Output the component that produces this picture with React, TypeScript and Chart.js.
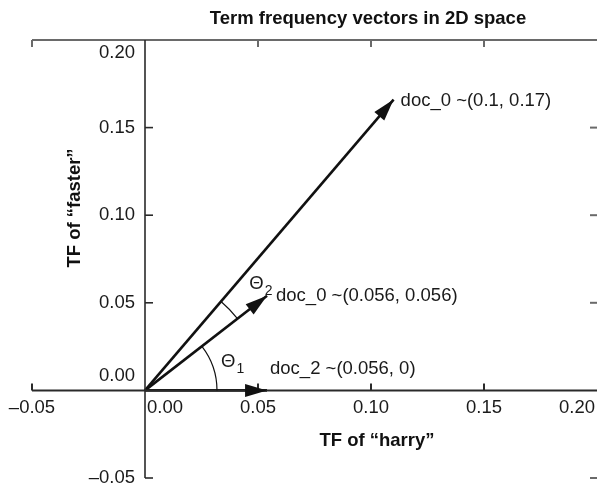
import React, { useEffect, useRef } from "react";
import { Chart, registerables } from "chart.js";

Chart.register(...registerables);

// ---- data ----
const chartTitle = "Term frequency vectors in 2D space";
const xAxisTitle = "TF of \u201charry\u201d";
const yAxisTitle = "TF of \u201cfaster\u201d";

const xTickValues = [-0.05, 0, 0.05, 0.1, 0.15, 0.2];
const xTickLabels = ["\u20130.05", "0.00", "0.05", "0.10", "0.15", "0.20"];
const yTickValues = [-0.05, 0, 0.05, 0.1, 0.15, 0.2];
const yTickLabels = ["\u20130.05", "0.00", "0.05", "0.10", "0.15", "0.20"];

const vectorNames = ["doc_0 ~(0.1, 0.17)", "doc_0 ~(0.056, 0.056)", "doc_2 ~(0.056, 0)"];
const vectorX = [0.11, 0.054, 0.054];
const vectorY = [0.166, 0.054, 0];

const angleNames = ["1", "2"];
// pairs of vector indices between which each angle is drawn
const anglePairs = [
  [2, 1],
  [1, 0],
];

// ---- layout / style ----
const FONT = "'Liberation Sans', Arial, Helvetica, sans-serif";
const FS = 18.5;
const labelOffsets = [
  [7, 1],
  [9, 0],
  [3, -21],
];
const arcRadii = [72, 117];
const angleLabelRadii = [88, 154];

const overlayPlugin = {
  id: "overlay",
  afterDatasetsDraw(chart: any) {
    const ctx: CanvasRenderingContext2D = chart.ctx;
    const xs = chart.scales.x;
    const ys = chart.scales.y;
    const X = (v: number) => xs.getPixelForValue(v);
    const Y = (v: number) => ys.getPixelForValue(v);
    const x0 = X(0);
    const y0 = Y(0);
    const left = X(xTickValues[0]);
    const right = X(xTickValues[xTickValues.length - 1]);
    const top = Y(yTickValues[yTickValues.length - 1]);
    const bottom = Y(yTickValues[0]);

    ctx.save();
    // top border
    ctx.strokeStyle = "#6a6a6a";
    ctx.lineWidth = 2;
    ctx.beginPath();
    ctx.moveTo(left, top);
    ctx.lineTo(right + 2, top);
    ctx.stroke();
    // top ticks
    xTickValues.forEach((v) => {
      if (v === 0 || v === xTickValues[xTickValues.length - 1]) return;
      ctx.beginPath();
      ctx.moveTo(X(v), top);
      ctx.lineTo(X(v), top + 7);
      ctx.stroke();
    });
    // right ticks
    yTickValues.forEach((v) => {
      if (v === 0 || v === yTickValues[yTickValues.length - 1]) return;
      ctx.beginPath();
      ctx.moveTo(right + 1, Y(v));
      ctx.lineTo(right - 7, Y(v));
      ctx.stroke();
    });

    // x axis through origin
    ctx.strokeStyle = "#2a2a2a";
    ctx.lineWidth = 2;
    ctx.beginPath();
    ctx.moveTo(left, y0);
    ctx.lineTo(right + 2, y0);
    ctx.stroke();
    xTickValues.forEach((v) => {
      if (v === 0 || v === xTickValues[xTickValues.length - 1]) return;
      ctx.beginPath();
      ctx.moveTo(X(v), y0);
      ctx.lineTo(X(v), y0 - 7);
      ctx.stroke();
    });
    // y axis through origin
    ctx.lineWidth = 1.6;
    ctx.beginPath();
    ctx.moveTo(x0, top);
    ctx.lineTo(x0, bottom);
    ctx.stroke();
    yTickValues.forEach((v) => {
      if (v === 0 || v === yTickValues[yTickValues.length - 1]) return;
      ctx.beginPath();
      ctx.moveTo(x0, Y(v));
      ctx.lineTo(x0 + 8, Y(v));
      ctx.stroke();
    });

    // tick labels
    ctx.fillStyle = "#1a1a1a";
    ctx.font = `${FS}px ${FONT}`;
    ctx.textBaseline = "middle";
    xTickValues.forEach((v, i) => {
      let px = X(v);
      if (v === 0) {
        ctx.textAlign = "left";
        px = x0 + 2;
      } else if (i === xTickValues.length - 1) {
        ctx.textAlign = "right";
        px = right - 2;
      } else {
        ctx.textAlign = "center";
      }
      ctx.fillText(xTickLabels[i], px, y0 + 18);
    });
    ctx.textAlign = "right";
    yTickValues.forEach((v, i) => {
      let py = Y(v);
      if (v === 0) py = y0 - 14;
      else if (i === yTickValues.length - 1) py = top + 13;
      ctx.fillText(yTickLabels[i], x0 - 10, py);
    });

    // arrow heads
    ctx.fillStyle = "#111";
    vectorX.forEach((vx, i) => {
      const tx = X(vx);
      const ty = Y(vectorY[i]);
      const ang = Math.atan2(ty - y0, tx - x0);
      const len = 22;
      const hw = 6.5;
      const bx = tx - len * Math.cos(ang);
      const by = ty - len * Math.sin(ang);
      ctx.beginPath();
      ctx.moveTo(tx, ty);
      ctx.lineTo(bx + hw * Math.sin(ang), by - hw * Math.cos(ang));
      ctx.lineTo(bx - hw * Math.sin(ang), by + hw * Math.cos(ang));
      ctx.closePath();
      ctx.fill();
    });

    // vector labels
    ctx.fillStyle = "#1a1a1a";
    ctx.font = `${FS}px ${FONT}`;
    ctx.textAlign = "left";
    ctx.textBaseline = "middle";
    vectorNames.forEach((name, i) => {
      ctx.fillText(name, X(vectorX[i]) + labelOffsets[i][0], Y(vectorY[i]) + labelOffsets[i][1]);
    });

    // angle arcs
    ctx.strokeStyle = "#111";
    ctx.lineWidth = 1.2;
    anglePairs.forEach((pair, k) => {
      const a1 = Math.atan2(Y(vectorY[pair[0]]) - y0, X(vectorX[pair[0]]) - x0);
      const a2 = Math.atan2(Y(vectorY[pair[1]]) - y0, X(vectorX[pair[1]]) - x0);
      ctx.beginPath();
      ctx.arc(x0, y0, arcRadii[k], Math.min(a1, a2), Math.max(a1, a2));
      ctx.stroke();
      const mid = (a1 + a2) / 2;
      const cx = x0 + angleLabelRadii[k] * Math.cos(mid);
      const cy = y0 + angleLabelRadii[k] * Math.sin(mid);
      ctx.font = `${FS}px ${FONT}`;
      const w = ctx.measureText("\u0398").width;
      ctx.textAlign = "left";
      ctx.fillText("\u0398", cx - w / 2, cy);
      ctx.font = `14px ${FONT}`;
      ctx.fillText(angleNames[k], cx + w / 2 + 1, cy + 7);
    });

    // titles
    ctx.fillStyle = "#111";
    ctx.font = `bold ${FS}px ${FONT}`;
    ctx.textAlign = "center";
    ctx.fillText(chartTitle, 368, 19);
    ctx.fillText(xAxisTitle, 377, 441);
    ctx.save();
    ctx.translate(75, 208);
    ctx.rotate(-Math.PI / 2);
    ctx.fillText(yAxisTitle, 0, 0);
    ctx.restore();

    ctx.restore();
  },
};

export default function App() {
  const ref = useRef<HTMLCanvasElement>(null);
  useEffect(() => {
    if (!ref.current) return;
    const chart = new Chart(ref.current, {
      type: "scatter",
      data: {
        datasets: vectorX.map((vx, i) => ({
          label: vectorNames[i],
          data: [
            { x: 0, y: 0 },
            { x: vx, y: vectorY[i] },
          ],
          showLine: true,
          borderColor: "#111",
          borderWidth: 2.6,
          pointRadius: 0,
          pointHoverRadius: 0,
        })),
      },
      options: {
        animation: false,
        responsive: false,
        devicePixelRatio: 1,
        layout: { padding: { left: 32, top: 40, right: 0, bottom: 6 } },
        scales: {
          x: { type: "linear", min: xTickValues[0], max: xTickValues[xTickValues.length - 1], display: false },
          y: { type: "linear", min: yTickValues[0], max: yTickValues[yTickValues.length - 1], display: false },
        },
        plugins: { legend: { display: false }, tooltip: { enabled: false }, title: { display: false } },
      },
      plugins: [overlayPlugin],
    });
    return () => chart.destroy();
  }, []);
  return (
    <div style={{ position: "absolute", left: 0, top: 0, width: 597, height: 484, background: "#fff" }}>
      <canvas ref={ref} width={597} height={484} style={{ width: 597, height: 484, display: "block" }} />
    </div>
  );
}
